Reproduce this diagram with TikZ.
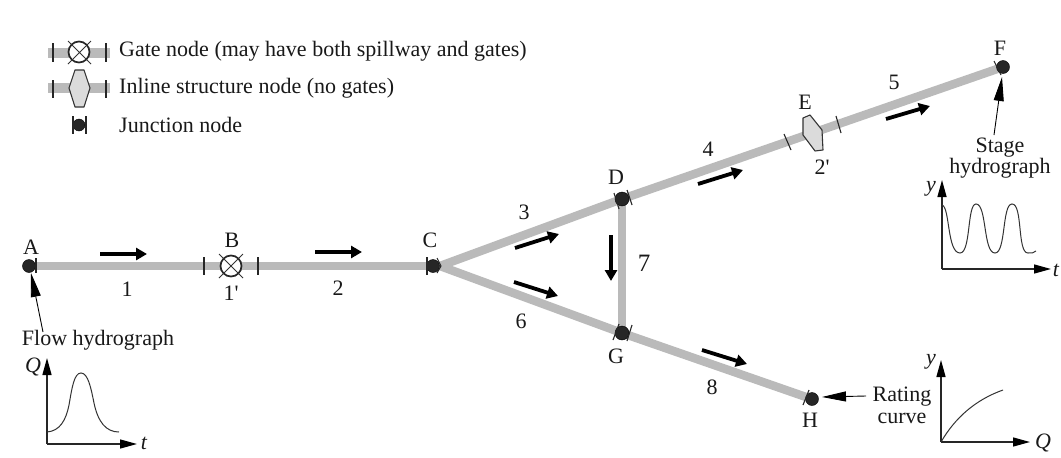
\documentclass[tikz,border=0pt]{standalone}
\usepackage{fontspec}
\setmainfont{Liberation Serif}[Ligatures=TeXOff]
\usetikzlibrary{arrows.meta}
\tikzset{
  pipe/.style={draw=black!27,line width=8.5pt},
  flow/.style={draw=black,line width=3.8pt,-{Triangle[length=11pt,width=12pt]}},
  tick/.style={draw=black!85,line width=1.1pt},
  junction/.style={circle,fill=black!85,draw=black,inner sep=0pt,minimum size=13pt},
  lbl/.style={font=\fontsize{22}{19}\selectfont,text=black!90,inner sep=0pt},
  legendtxt/.style={lbl,anchor=west},
  ital/.style={lbl,font=\fontsize{22}{18}\selectfont\itshape},
  pointer/.style={draw=black,line width=0.9pt,-{Triangle[length=24pt,width=10pt]}},
  axis/.style={draw=black!85,line width=1.4pt,-{Triangle[length=17pt,width=9pt,color=black]}},
  curve/.style={draw=black!80,line width=1pt},
  gatering/.style={circle,draw=black!85,line width=1.7pt,fill=white,inner sep=0pt,minimum size=21pt},
  gatecross/.style={draw=black!80,line width=1pt},
  hexa/.style={draw=black!80,line width=1.1pt,fill=black!14,line join=round},
}
\begin{document}
\begin{tikzpicture}[x=1pt,y=-1pt]
\useasboundingbox[fill=white] (0,0) rectangle (1061,458);
% network nodes
\coordinate (Cj) at (440,266);
\draw[pipe] (36,266) coordinate (Ap) -- (Cj);
\draw[pipe] (Cj) -- (622,199) coordinate (Dp);
\draw[pipe] (Dp) -- (1000,68) coordinate (Fp);
\draw[pipe] (Cj) -- (622,333) coordinate (Gp);
\draw[pipe] (Dp) -- (Gp);
\draw[pipe] (Gp) -- (806,397) coordinate (Hp);
\node[junction] (A) at (29,266) {};
\node[junction] (C) at (433,266) {};
\node[junction,minimum size=14pt] (D) at (622,199) {};
\node[junction,minimum size=14pt] (G) at (622,333) {};
\node[junction] (F) at (1003,67) {};
\node[junction] (H) at (812,399) {};
% ticks at junctions
\draw[tick] (36,258) -- (36,273);
\draw[tick] (427,257) -- (427,275);
\draw[tick] (437,258) -- (441,266) -- (437,273);
\draw[tick] (614,193) -- (619,209);
\draw[tick] (627,190) -- (632,205);
\draw[tick] (619,324) -- (613,340);
\draw[tick] (632,325) -- (627,341);
\draw[tick] (994,61) -- (1001,75);
\draw[tick] (809,390) -- (803,405);
% gate B
\draw[tick] (204,257) -- (204,275);
\draw[tick] (258,257) -- (258,275);
\node[gatering] (B) at (231,266) {};
\draw[gatecross] (219,254) -- (243,278) (243,254) -- (219,278);
% inline E
\draw[tick] (784,134) -- (791,150);
\draw[tick] (836,116) -- (841,133);
\draw[hexa] (803,118) -- (810,115) -- (822,130) -- (823,150) -- (815,151) -- (803,135) -- cycle;
% flow arrows
\draw[flow] (100,254) -- (147,254);
\draw[flow] (315,252) -- (362,252);
\draw[flow] (515,248) -- (559,234);
\draw[flow] (514,282) -- (558,296);
\draw[flow] (611,235) -- (611,281);
\draw[flow] (698,184) -- (743,170);
\draw[flow] (886,119) -- (930,106);
\draw[flow] (702,350) -- (747,364);
% labels
\node[lbl] at (31,247) {A};
\node[lbl] at (232,240) {B};
\node[lbl] at (430,240) {C};
\node[lbl] at (616,177) {D};
\node[lbl] at (805,102) {E};
\node[lbl] at (1000,48) {F};
\node[lbl] at (616,356) {G};
\node[lbl] at (810,420) {H};
\node[lbl] at (127,289) {1};
\node[lbl] at (231,293) {1'};
\node[lbl] at (338,288) {2};
\node[lbl] at (524,212) {3};
\node[lbl] at (708,149) {4};
\node[lbl] at (894,82) {5};
\node[lbl] at (521,321) {6};
\node[lbl,font=\fontsize{25}{18}\selectfont] at (644,263) {7};
\node[lbl] at (712,387) {8};
\node[lbl] at (822,167) {2'};
% boundary labels
\node[lbl] (fh) at (98,340) {Flow hydrograph};
\draw[pointer] (43,332) -- (31,273);
\node[lbl,align=center] (sh) at (1000,158) {Stage\\hydrograph};
\draw[pointer] (994,135) -- (1002,77);
\node[lbl,align=center,font=\fontsize{22}{22}\selectfont] (rc) at (902,405) {Rating\\curve};
\draw[pointer] (866,396) -- (822,397);
% plot Q-t
\coordinate (o1) at (47,444);
\draw[axis] (o1) -- (47,358);
\draw[axis] (o1) -- (137,444);
\draw[curve] (47,432) .. controls (60,431) and (66,420) .. (69,405) .. controls (72,388) and (74,373) .. (81,373) .. controls (88,373) and (91,388) .. (94,403) .. controls (98,422) and (106,432) .. (119,432);
\node[ital] at (33,367) {Q};
\node[ital] at (144,443) {t};
% plot y-t
\coordinate (o2) at (942,269);
\draw[axis] (o2) -- (942,180);
\draw[axis] (o2) -- (1051,269);
\draw[curve] (942,205) .. controls (950,207) and (947,253) .. (960,253) .. controls (971,253) and (967,204) .. (976,204) .. controls (987,204) and (983,253) .. (995,253) .. controls (1006,253) and (1002,204) .. (1012,204) .. controls (1023,204) and (1017,253) .. (1028,253) .. controls (1032,253) and (1034,253) .. (1036,251);
\node[ital] at (931,189) {y};
\node[ital] at (1056,270) {t};
% plot y-Q
\coordinate (o3) at (941,442);
\draw[axis] (o3) -- (941,360);
\draw[axis] (o3) -- (1030,442);
\draw[curve] (o3) .. controls (955,418) and (975,400) .. (1003,390);
\node[ital] at (931,362) {y};
\node[ital] at (1043,443) {Q};
% legend
\draw[pipe,line width=10pt] (48,53) -- (110,53);
\draw[tick] (53,43) -- (53,62);
\draw[tick] (106,43) -- (106,62);
\node[gatering] (Lg) at (79,52) {};
\draw[gatecross] (68,41) -- (91,64) (91,41) -- (68,64);
\draw[pipe,line width=10pt] (48,88) -- (110,88);
\draw[tick] (53,80) -- (53,98);
\draw[tick] (106,80) -- (106,98);
\draw[hexa] (75,70) -- (84,70) -- (90,88) -- (84,107) -- (75,107) -- (69,88) -- cycle;
\node[junction,minimum size=12pt] (Lj) at (79,125) {};
\draw[tick] (73,116) -- (73,134);
\draw[tick] (86,116) -- (86,134);
\node[legendtxt] at (119,51) {Gate node (may have both spillway and gates)};
\node[legendtxt] at (119,88) {Inline structure node (no gates)};
\node[legendtxt] at (119,125) {Junction node};
\end{tikzpicture}
\end{document}
